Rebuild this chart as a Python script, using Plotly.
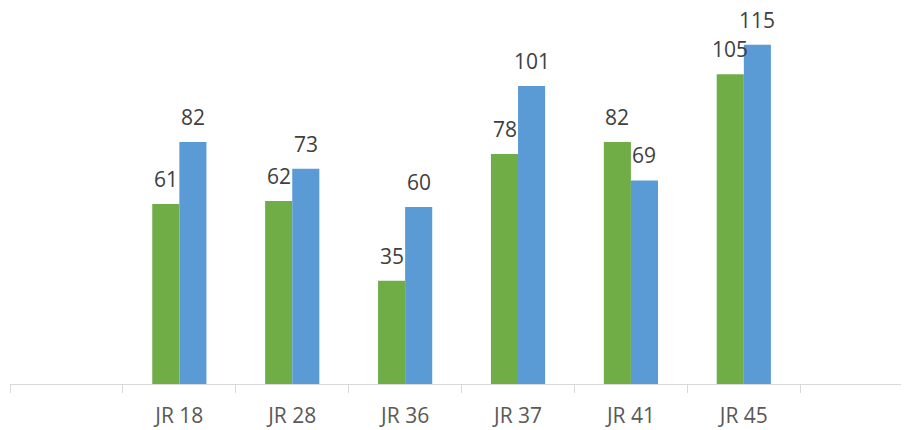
import plotly.graph_objects as go

categories = [" ", "JR 18", "JR 28", "JR 36", "JR 37", "JR 41", "JR 45", "  "]
bar_categories = ["JR 18", "JR 28", "JR 36", "JR 37", "JR 41", "JR 45"]
green_values = [61, 62, 35, 78, 82, 105]
blue_values = [82, 73, 60, 101, 69, 115]

GREEN = "#70AD47"
BLUE = "#5B9BD5"
LABEL_FONT = dict(size=21, color="#404040", family="Open Sans")

fig = go.Figure()
fig.add_trace(go.Bar(
    x=bar_categories, y=green_values, name="Series 1",
    marker=dict(color=GREEN, line=dict(width=0)),
))
fig.add_trace(go.Bar(
    x=bar_categories, y=blue_values, name="Series 2",
    marker=dict(color=BLUE, line=dict(width=0)),
))

# data labels above each bar (offset left/right to the bar within the group)
for series, shift in ((green_values, -13.5), (blue_values, 13.5)):
    for cat, val in zip(bar_categories, series):
        fig.add_annotation(
            x=cat, y=val, text=str(val), showarrow=False,
            xanchor="center", yanchor="bottom", xshift=shift, yshift=10,
            borderpad=0, font=LABEL_FONT,
        )

fig.update_layout(
    width=909, height=430,
    margin=dict(l=2, r=0, t=22, b=54, autoexpand=False),
    paper_bgcolor="white", plot_bgcolor="white",
    barmode="group", bargap=0.52, bargroupgap=0,
    showlegend=False,
    font=dict(family="Open Sans", color="#595959"),
    xaxis=dict(
        type="category", categoryorder="array", categoryarray=categories,
        range=[-0.5, 7.534], showline=True, linecolor="#d9d9d9", linewidth=1,
        ticks="outside", ticklen=8, tickcolor="#d9d9d9", tickson="boundaries",
        ticklabelstandoff=13,
        tickfont=dict(size=21, color="#595959", family="Open Sans"),
        showgrid=False, zeroline=False, automargin=False,
    ),
    yaxis=dict(range=[0, 120], visible=False, showgrid=False, zeroline=False),
)

fig.write_html("out.html")
